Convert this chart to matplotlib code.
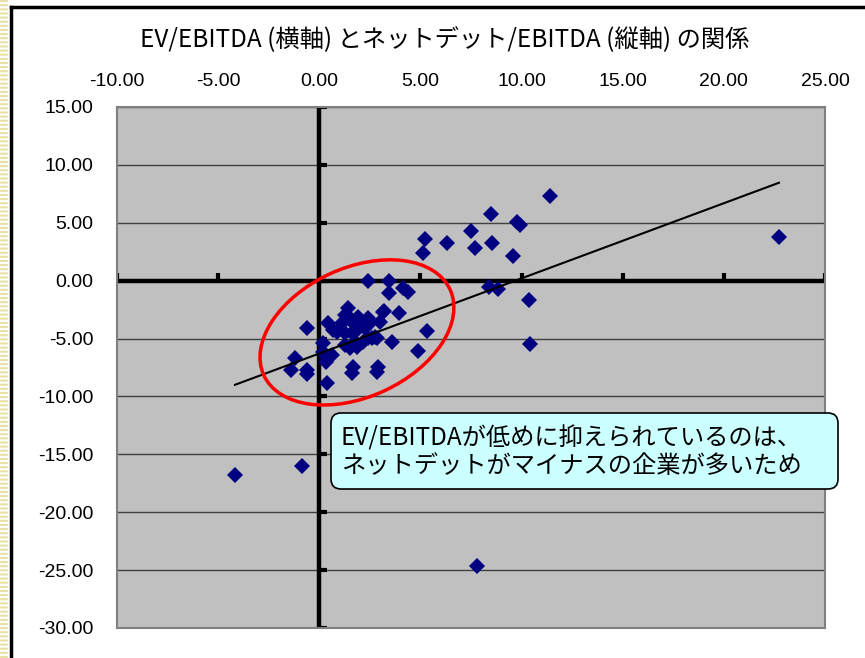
import numpy as np
import matplotlib
matplotlib.use("Agg")
import matplotlib.pyplot as plt
from matplotlib import transforms
from matplotlib.lines import Line2D
from matplotlib.patches import Ellipse, FancyBboxPatch
from matplotlib.markers import TICKUP, TICKRIGHT


# ------------------------------------------------------------
# Data
# ------------------------------------------------------------

ev_ebitda = [
    -4.17, -0.86, 7.80, 22.72, 11.40,
    8.49, 9.77, 9.92, 5.22, 5.13, 6.31, 7.50, 7.70, 8.54, 9.58,
    8.39, 8.84, 10.37, 10.42, 5.32, 4.88,
    2.40, 3.44, 3.44, 4.14, 4.38, 3.20, 3.94, 3.00, 3.60, 2.75, 2.61,
    -0.61, -1.20, -1.40, -0.61, -0.61, 0.38, 0.18, 0.18, 0.38, 0.33, 0.63,
    0.43, 0.68, 1.12, 1.42, 1.27, 1.52, 1.67, 1.91, 2.01, 2.41, 2.51,
    2.26, 1.86, 1.62, 1.27, 0.87, 3.15,
    1.27, 1.52, 1.86, 1.76, 1.67, 1.62, 2.90, 2.85, 2.40, 2.85, 2.16,
]

net_debt_ebitda = [
    -16.78, -16.00, -24.64, 3.77, 7.31,
    5.76, 5.07, 4.81, 3.60, 2.39, 3.26, 4.29, 2.82, 3.26, 2.13,
    -0.54, -0.72, -1.67, -5.47, -4.34, -6.07,
    -0.03, -0.03, -1.06, -0.63, -0.98, -2.62, -2.79, -3.57, -5.29, -4.86, -4.95,
    -4.08, -6.68, -7.71, -7.71, -8.06, -8.83, -5.38, -6.16, -6.59, -7.02, -6.42,
    -3.65, -4.26, -3.65, -2.36, -2.96, -3.22, -3.65, -3.13, -3.57, -3.22, -3.65,
    -4.08, -4.26, -4.52, -4.52, -4.43, -2.70,
    -5.55, -5.81, -5.73, -5.29, -7.45, -7.97, -7.45, -7.88, -4.95, -4.95, -5.29,
]

# linear trendline shown on the chart
trend_slope = 0.649
trend_intercept = -6.29

x_ticks = [-10, -5, 0, 5, 10, 15, 20, 25]
y_ticks = [15, 10, 5, 0, -5, -10, -15, -20, -25, -30]

title = "EV/EBITDA (横軸) とネットデット/EBITDA (縦軸) の関係"
note = "EV/EBITDAが低めに抑えられているのは、\nネットデットがマイナスの企業が多いため"

jp_font = ["Noto Sans CJK JP", "DejaVu Sans"]
plt.rcParams["font.family"] = ["Liberation Sans", "Noto Sans CJK JP"]


# ------------------------------------------------------------
# Figure and axes
# ------------------------------------------------------------

fig = plt.figure(figsize=(8.65, 6.58), dpi=100)
ax = fig.add_axes([0.1353, 0.0456, 0.8185, 0.7918])

ax.set_facecolor("#C0C0C0")
ax.set_xlim(-10, 25)
ax.set_ylim(-30, 15)

ax.set_xticks(x_ticks)
ax.set_xticklabels([f"{v:.2f}" for v in x_ticks])
ax.set_yticks(y_ticks)
ax.set_yticklabels([f"{v:.2f}" for v in y_ticks])
ax.xaxis.tick_top()
ax.tick_params(length=0, labelsize=14)
ax.tick_params(axis="x", pad=12)
ax.tick_params(axis="y", pad=17)

for spine in ax.spines.values():
    spine.set_color("#808080")
    spine.set_linewidth(1.5)

ax.grid(axis="y", color="#404040", linewidth=1)
ax.set_axisbelow(True)

# axis lines through the origin, with small tick marks
ax.axhline(0, color="black", linewidth=3.2, zorder=2)
ax.axvline(0, color="black", linewidth=3.2, zorder=2)
ax.plot(x_ticks, [0] * len(x_ticks), linestyle="none", marker=TICKUP,
        markersize=6, markeredgewidth=3, color="black", zorder=2)
ax.plot([0] * len(y_ticks), y_ticks, linestyle="none", marker=TICKRIGHT,
        markersize=6, markeredgewidth=3, color="black", zorder=2)


# ------------------------------------------------------------
# Points, trendline, highlight
# ------------------------------------------------------------

ax.plot(ev_ebitda, net_debt_ebitda, linestyle="none", marker="D",
        markersize=8, markeredgewidth=0, color="#000080", zorder=3)

trend_x = np.array([min(ev_ebitda), max(ev_ebitda)])
ax.plot(trend_x, trend_intercept + trend_slope * trend_x,
        color="black", linewidth=1.5, zorder=4)

ellipse_tr = fig.dpi_scale_trans + transforms.ScaledTranslation(1.86, -4.47, ax.transData)
ax.add_patch(Ellipse((0, 0), width=2.05, height=1.29, angle=24.7, fill=False,
                     edgecolor="red", linewidth=2.5, transform=ellipse_tr, zorder=5))


# ------------------------------------------------------------
# Title, callout, frame
# ------------------------------------------------------------

fig.text(0.514, 0.939, title, ha="center", va="center", fontsize=17.5, family=jp_font)

box = FancyBboxPatch((331, 169), 507, 76, boxstyle="round,pad=0,rounding_size=10",
                     facecolor="#CCFFFF", edgecolor="black", linewidth=1.2,
                     transform=transforms.IdentityTransform(), zorder=6)
fig.add_artist(box)
fig.text(0.394, 0.313, note, ha="left", va="center", fontsize=17.5,
         linespacing=1.05, family=jp_font, zorder=7)

fig.add_artist(Line2D([11 / 865, 1], [651 / 658, 651 / 658], color="black",
                      linewidth=2.5, transform=fig.transFigure))
fig.add_artist(Line2D([11 / 865, 11 / 865], [0, 651 / 658], color="black",
                      linewidth=2.5, transform=fig.transFigure))
fig.add_artist(Line2D([4 / 865, 4 / 865], [0, 1], color="#E8E0A0", linewidth=5.5,
                      linestyle=(0, (0.27, 0.27)), transform=fig.transFigure))

fig.savefig("out.png", dpi=100)
